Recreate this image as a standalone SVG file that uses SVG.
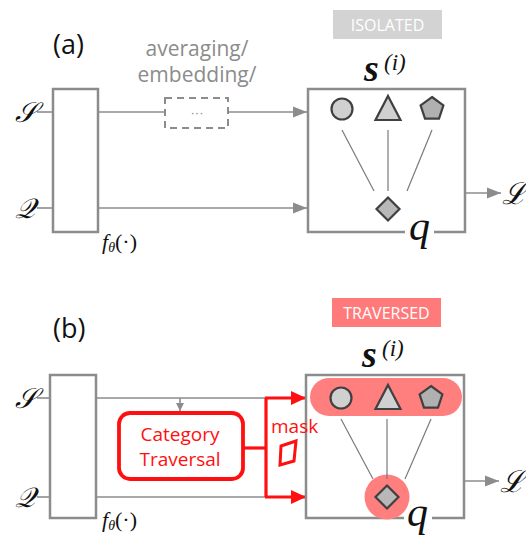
<svg xmlns="http://www.w3.org/2000/svg" width="526" height="535" viewBox="0 0 526 535">
  <style>
    .frame { fill: #ffffff; stroke: #8c8c8c; stroke-width: 2.5; }
    .box { fill: none; stroke: #8c8c8c; stroke-width: 2.5; }
    .wire { fill: none; stroke: #8c8c8c; stroke-width: 1.6; }
    .link { fill: none; stroke: #7a7a7a; stroke-width: 1.2; }
    .red { fill: none; stroke: #ff1010; stroke-width: 3.2; }
    .shape { stroke: #404040; stroke-width: 2.2; }
    .panel { font-family: "Open Sans", "Liberation Sans", sans-serif; font-size: 27px; fill: #111; }
    .note { font-family: "Open Sans", "Liberation Sans", sans-serif; font-size: 21px; fill: #8c8c8c; }
    .tag { font-family: "Open Sans", "Liberation Sans", sans-serif; font-size: 16px; fill: #ffffff; }
    .math { font-family: "Liberation Serif", "DejaVu Serif", serif; font-style: italic; fill: #111; }
    .redtext { font-family: "Open Sans", "Liberation Sans", sans-serif; font-size: 19px; fill: #ff1010; }
  </style>
  <defs>
    <marker id="grey-head" markerUnits="userSpaceOnUse" markerWidth="16" markerHeight="12" refX="14" refY="6" orient="auto">
      <path d="M0,0.5 L14,6 L0,11.5 Z" fill="#8c8c8c"/>
    </marker>
    <marker id="small-head" markerUnits="userSpaceOnUse" markerWidth="10" markerHeight="10" refX="8" refY="5" orient="auto">
      <path d="M0,1 L8,5 L0,9 Z" fill="#8c8c8c"/>
    </marker>
    <marker id="red-head" markerUnits="userSpaceOnUse" markerWidth="16" markerHeight="14" refX="15" refY="7" orient="auto">
      <path d="M0,0 L15,7 L0,14 Z" fill="#ff1010"/>
    </marker>
    <circle id="circ" cx="0" cy="0" r="10.5" fill="#d0d0d0" class="shape"/>
    <path id="tri" d="M0,-12 L12.5,12 L-12.5,12 Z" fill="#d0d0d0" class="shape"/>
    <path id="pent" d="M0,-12 L11.4,-3.7 L7,9.7 L-7,9.7 L-11.4,-3.7 Z" fill="#b0b0b0" class="shape"/>
    <path id="diam" d="M0,-11.5 L11.5,0 L0,11.5 L-11.5,0 Z" fill="#b8b8b8" class="shape"/>
  </defs>

  <!-- ===== panel (a) ===== -->
  <text class="panel" x="53" y="54">(a)</text>

  <g id="a-connectors">
    <line class="wire" x1="37" y1="112" x2="53" y2="112"/>
    <line class="wire" x1="37" y1="208" x2="53" y2="208"/>
    <line class="wire" x1="98" y1="112" x2="165" y2="112"/>
    <line class="wire" x1="228" y1="112" x2="307" y2="112" marker-end="url(#grey-head)"/>
    <line class="wire" x1="98" y1="208" x2="307" y2="208" marker-end="url(#grey-head)"/>
    <line class="wire" x1="466" y1="193" x2="501" y2="193" marker-end="url(#grey-head)"/>
  </g>

  <g id="a-labels">
    <text class="math" x="15" y="122" font-size="28">𝒮</text>
    <text class="math" x="15" y="218" font-size="28">𝒬</text>
    <text class="math" x="502" y="204" font-size="30">ℒ</text>
  </g>

  <g id="a-encoder">
    <rect class="frame" x="53" y="89" width="45" height="143"/>
    <text class="math" x="102" y="249" font-size="22">f<tspan font-size="14" dy="3">θ</tspan><tspan font-style="normal" dy="-3">(·)</tspan></text>
  </g>

  <g id="a-aggregate">
    <text class="note" x="197" y="56" text-anchor="middle">averaging/</text>
    <text class="note" x="197" y="82" text-anchor="middle">embedding/</text>
    <rect x="165" y="98" width="63" height="30" fill="none" stroke="#8c8c8c" stroke-width="2" stroke-dasharray="7,5"/>
    <text x="197" y="117" text-anchor="middle" font-family="Liberation Sans, sans-serif" font-size="13" fill="#8c8c8c">···</text>
  </g>

  <g id="a-tag">
    <rect x="333" y="10" width="109" height="29" fill="#d3d3d3"/>
    <text class="tag" x="387.5" y="30.5" text-anchor="middle">ISOLATED</text>
  </g>

  <g id="a-metric">
    <text class="math" x="364" y="81" font-size="38" font-weight="bold">s</text>
    <text class="math" x="384" y="70" font-size="23" font-style="normal">(<tspan font-style="italic">i</tspan>)</text>
    <path class="box" d="M405,232 L308,232 L308,89 L465,89 L465,232 L434,232"/>
    <line class="link" x1="342" y1="130" x2="374" y2="191"/>
    <line class="link" x1="388" y1="130" x2="388" y2="191"/>
    <line class="link" x1="432" y1="130" x2="407" y2="191"/>
    <use href="#circ" x="342" y="109"/>
    <use href="#tri" x="388" y="108"/>
    <use href="#pent" x="432" y="109"/>
    <use href="#diam" x="388" y="209"/>
    <text class="math" x="409" y="240" font-size="42">q</text>
  </g>

  <!-- ===== panel (b) ===== -->
  <text class="panel" x="53" y="338">(b)</text>

  <g id="b-connectors">
    <line class="wire" x1="37" y1="398" x2="50" y2="398"/>
    <line class="wire" x1="37" y1="497" x2="50" y2="497"/>
    <line class="wire" x1="96" y1="398" x2="266" y2="398"/>
    <line class="wire" x1="96" y1="497" x2="266" y2="497"/>
    <line class="wire" x1="180" y1="398" x2="180" y2="411" stroke-width="1.3" marker-end="url(#small-head)"/>
    <line class="wire" x1="464" y1="481" x2="499" y2="481" marker-end="url(#grey-head)"/>
    <path class="red" d="M243,448 L266,448"/>
    <path class="red" d="M266,398 L266,497"/>
    <line class="red" x1="265" y1="398" x2="306" y2="398" marker-end="url(#red-head)"/>
    <line class="red" x1="265" y1="497" x2="306" y2="497" marker-end="url(#red-head)"/>
  </g>

  <g id="b-labels">
    <text class="math" x="15" y="408" font-size="28">𝒮</text>
    <text class="math" x="15" y="507" font-size="28">𝒬</text>
    <text class="math" x="500" y="492" font-size="30">ℒ</text>
  </g>

  <g id="b-encoder">
    <rect class="frame" x="50" y="375" width="46" height="143"/>
    <text class="math" x="102" y="527" font-size="22">f<tspan font-size="14" dy="3">θ</tspan><tspan font-style="normal" dy="-3">(·)</tspan></text>
  </g>

  <g id="b-traversal">
    <rect x="119" y="413" width="124" height="66" rx="11" fill="#ffffff" stroke="#ff1010" stroke-width="3.8"/>
    <text class="redtext" x="180" y="441" text-anchor="middle">Category</text>
    <text class="redtext" x="180" y="466" text-anchor="middle">Traversal</text>
  </g>

  <g id="b-tag">
    <rect x="332" y="298" width="109" height="29" fill="#ff7b7b"/>
    <text class="tag" x="386.5" y="318.5" text-anchor="middle">TRAVERSED</text>
  </g>

  <g id="b-metric">
    <text class="math" x="362" y="367" font-size="38" font-weight="bold">s</text>
    <text class="math" x="382" y="356" font-size="23" font-style="normal">(<tspan font-style="italic">i</tspan>)</text>
    <path class="box" d="M404,518 L306,518 L306,375 L464,375 L464,518 L432,518"/>
    <rect x="310" y="378" width="152" height="38" rx="19" fill="#ff7f7f"/>
    <circle cx="387" cy="497" r="22.5" fill="#ff7f7f"/>
    <line class="link" x1="341" y1="419" x2="373" y2="479"/>
    <line class="link" x1="387" y1="419" x2="387" y2="479"/>
    <line class="link" x1="431" y1="419" x2="405" y2="479"/>
    <use href="#circ" x="341" y="398"/>
    <use href="#tri" x="388" y="397"/>
    <use href="#pent" x="431" y="398"/>
    <use href="#diam" x="387" y="497"/>
    <text class="math" x="407" y="526" font-size="42">q</text>
  </g>

  <g id="b-mask">
    <text class="redtext" x="271" y="433" font-size="17">mask</text>
    <path d="M281,446 L296,441 L294,461 L280,465 Z" fill="none" stroke="#ff1010" stroke-width="3"/>
  </g>
</svg>
